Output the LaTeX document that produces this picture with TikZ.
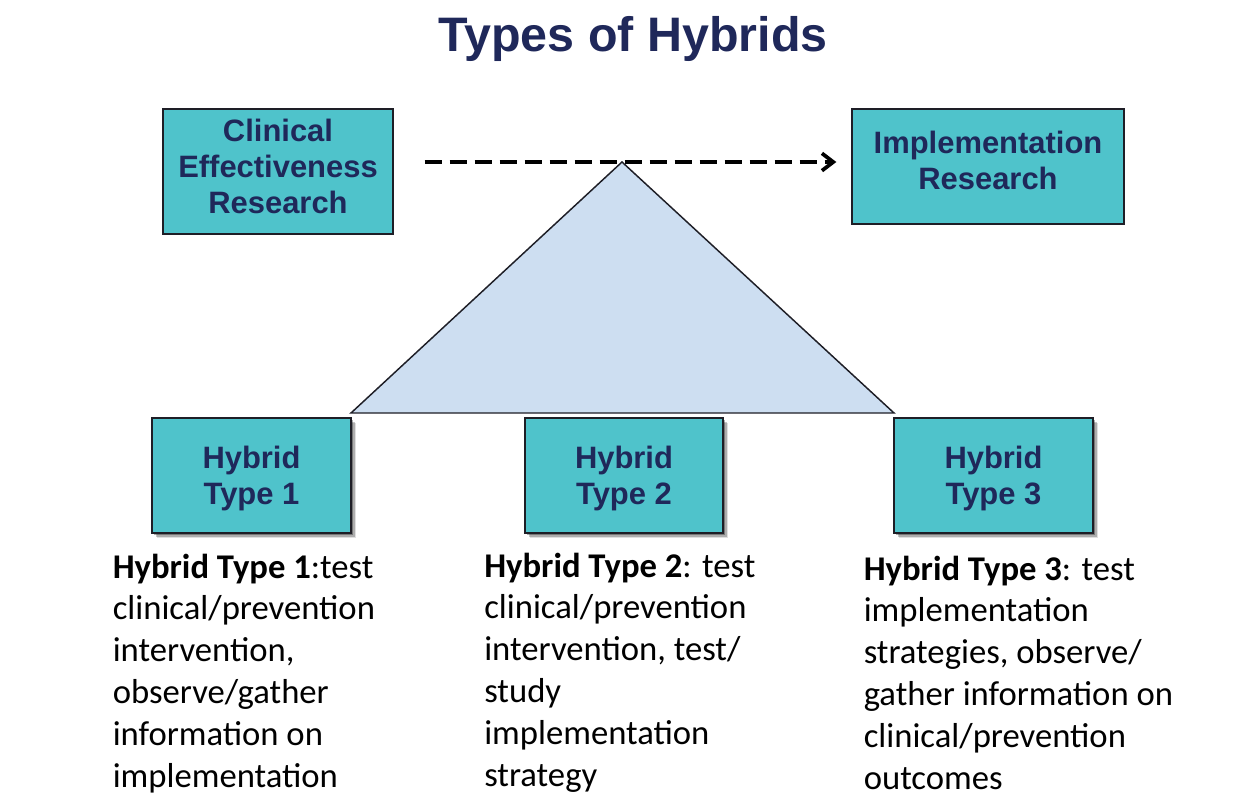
\documentclass[tikz,border=0pt]{standalone}
\usepackage{fontspec}
\setmainfont{Liberation Sans}
\newfontfamily\bodyfont{Carlito}
\usetikzlibrary{arrows.meta,shadows}
\definecolor{navy}{RGB}{31,40,90}
\definecolor{boxteal}{RGB}{79,195,203}
\definecolor{trifill}{RGB}{205,222,241}
\definecolor{edge}{RGB}{30,30,38}
% invisible depth that lifts a box label a little
\newcommand\liftby[1]{\rule[-#1]{0pt}{#1}}
% invisible height that lowers a box label a little
\newcommand\dropby{\rule{0pt}{21.5pt}}
\begin{document}
\begin{tikzpicture}[x=0.75pt,y=-0.75pt,
  box/.style={draw=edge, line width=1pt, fill=boxteal, inner sep=0pt,
    align=center, text=navy, font=\fontsize{23.2}{27}\selectfont\bfseries},
  shadowed/.style={
    drop shadow={shadow xshift=4pt,shadow yshift=-4pt,fill=black,opacity=.12},
    drop shadow={shadow xshift=3pt,shadow yshift=-3pt,fill=black,opacity=.22},
    drop shadow={shadow xshift=1.8pt,shadow yshift=-1.8pt,fill=black,opacity=.32}},
  tri/.style={draw=edge, line width=1.1pt, fill=trifill, line join=miter},
  flow/.style={line width=2.8pt, dash pattern=on 12.75pt off 6pt,
    -{Straight Barb[length=8.5pt,width=13pt]},
    shorten <=23.25pt, shorten >=11.25pt},
  desc/.style={inner sep=0pt, anchor=base west, text=black,
    font=\bodyfont\fontsize{26}{31.35}\selectfont},
  heading/.style={inner sep=0pt, anchor=base, text=navy,
    font=\fontsize{36.3}{40}\selectfont\bfseries}]

\useasboundingbox (0,0) rectangle (1248,792);
\fill[white] (0,0) rectangle (1248,792);
\clip (0,0) rectangle (1248,792);

% title
\node[heading] (title) at (633,51) {Types of Hybrids};

% triangle joining the three hybrid types
\coordinate (apex) at (622,162);
\coordinate (bl) at (351,413);
\coordinate (br) at (894,413);
\draw[tri] (apex) -- (bl) -- (br) -- cycle;

% research boxes at the top
\node[box, minimum width=172.5pt, minimum height=93.75pt] (ce) at (278,171.5)
  {Clinical\\Effectiveness\\Research\liftby{8.5pt}};
\node[box, minimum width=204pt, minimum height=86.25pt] (ir) at (988,166.5)
  {Implementation\\Research\liftby{10pt}};

% continuum arrow
\draw[flow] (ce.east |- apex) -- (ir.west |- apex);

% hybrid type boxes
\node[box, shadowed, minimum width=149.25pt, minimum height=86.25pt] (h1) at (251.5,475.5)
  {\dropby Hybrid\\Type 1};
\node[box, shadowed, minimum width=148.5pt, minimum height=86.25pt] (h2) at (624,475.5)
  {\dropby Hybrid\\Type 2};
\node[box, shadowed, minimum width=149.25pt, minimum height=86.25pt] (h3) at (993.5,475.5)
  {\dropby Hybrid\\Type 3};

% descriptions
\node[desc] (d1) at (112.5,578) {\begin{tabular}[t]{@{}l@{}}
  \textbf{Hybrid Type 1}:test\\
  clinical/prevention\\
  intervention,\\
  observe/gather\\
  information on\\
  implementation
\end{tabular}};
\node[desc] (d2) at (484,577) {\begin{tabular}[t]{@{}l@{}}
  \textbf{Hybrid Type 2}: test\\
  clinical/prevention\\
  intervention, test/\\
  study\\
  implementation\\
  strategy
\end{tabular}};
\node[desc] (d3) at (863.5,580) {\begin{tabular}[t]{@{}l@{}}
  \textbf{Hybrid Type 3}: test\\
  implementation\\
  strategies, observe/\\
  gather information on\\
  clinical/prevention\\
  outcomes
\end{tabular}};
\end{tikzpicture}
\end{document}
